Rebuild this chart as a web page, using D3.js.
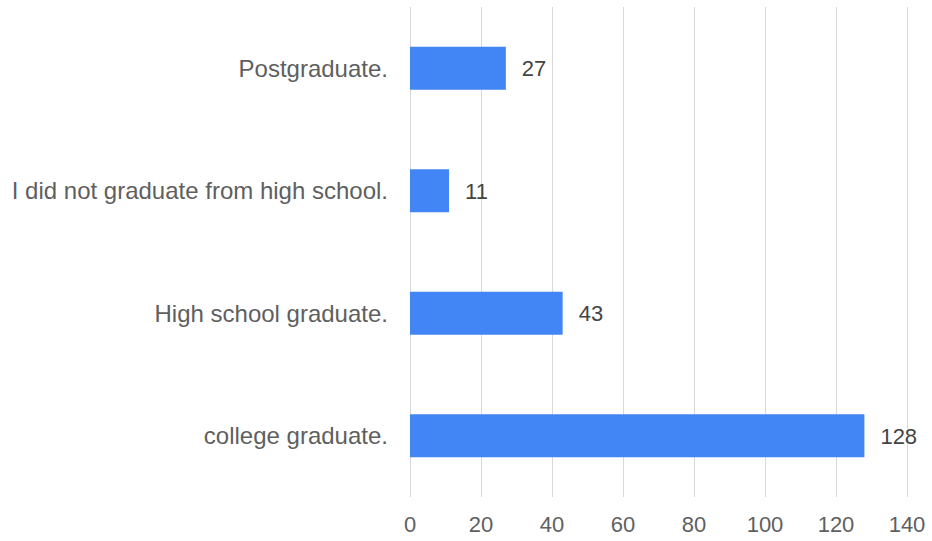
<!DOCTYPE html>
<html><head><meta charset="utf-8">
<script src="https://cdn.jsdelivr.net/npm/d3@7"></script>
<style>body{margin:0;background:#fff}</style>
</head><body><svg id="c" width="932" height="541"></svg>
<script>
const categories = ["Postgraduate.", "I did not graduate from high school.", "High school graduate.", "college graduate."];
const values = [27, 11, 43, 128];
const xTicks = [0, 20, 40, 60, 80, 100, 120, 140];

const svg = d3.select("#c");
const font = "'Liberation Sans', Arial, sans-serif";
const x = d3.scaleLinear().domain([0, 140]).range([410, 907]);
const y = d3.scaleBand().domain(categories).range([7, 497]).paddingInner(0.649).paddingOuter(0.3245);

svg.append("g").selectAll("line").data(xTicks).join("line")
  .attr("x1", d => Math.round(x(d)) + 0.5).attr("x2", d => Math.round(x(d)) + 0.5)
  .attr("y1", 7).attr("y2", 497)
  .attr("stroke", "#d9d9d9").attr("stroke-width", 1);

svg.append("g").selectAll("rect").data(values).join("rect")
  .attr("x", x(0)).attr("y", (d, i) => y(categories[i]))
  .attr("width", d => x(d) - x(0)).attr("height", y.bandwidth())
  .attr("fill", "#4285f4");

svg.append("g").selectAll("text").data(values).join("text")
  .attr("x", d => x(d) + 16).attr("y", (d, i) => y(categories[i]) + y.bandwidth() / 2)
  .attr("dy", "0.36em").attr("font-family", font).attr("font-size", 22)
  .attr("fill", "#444").text(d => d);

svg.append("g").selectAll("text").data(categories).join("text")
  .attr("x", 388).attr("y", d => y(d) + y.bandwidth() / 2)
  .attr("dy", "0.36em").attr("text-anchor", "end")
  .attr("font-family", font).attr("font-size", 24)
  .attr("fill", "#5f5f5f").text(d => d);

svg.append("g").selectAll("text").data(xTicks).join("text")
  .attr("x", d => x(d)).attr("y", 524).attr("dy", "0.36em")
  .attr("text-anchor", "middle").attr("font-family", font).attr("font-size", 22)
  .attr("fill", "#5f5f5f").text(d => d);
</script></body></html>
